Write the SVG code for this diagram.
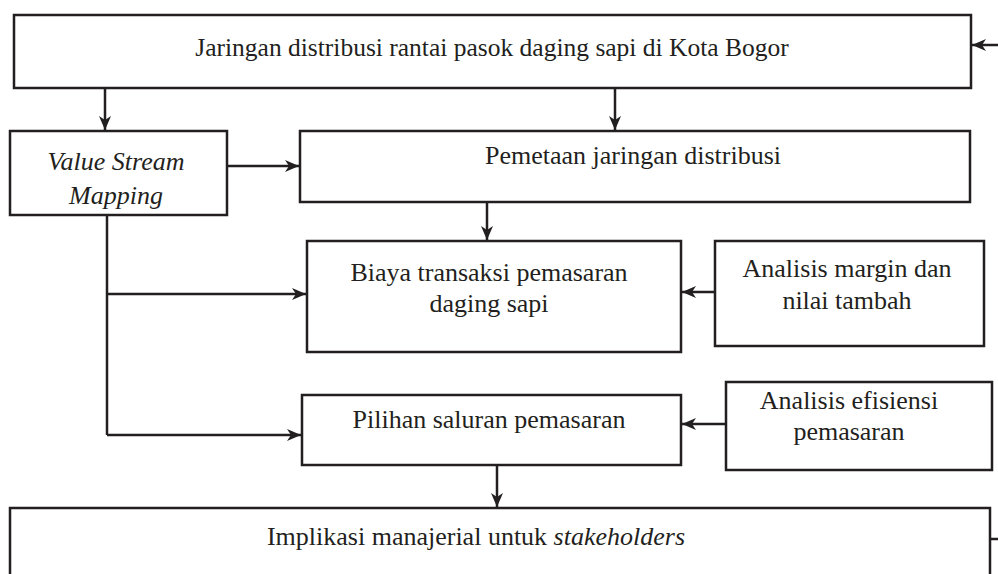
<svg xmlns="http://www.w3.org/2000/svg" width="998" height="574" viewBox="0 0 998 574">
<defs>
<marker id="ah" viewBox="0 0 14 12" refX="14" refY="6" markerWidth="14" markerHeight="12" markerUnits="userSpaceOnUse" orient="auto">
<path d="M0,0 L14,6 L0,12 L4,6 Z" fill="#231f20"/>
</marker>
<style>
.box{fill:#fff;stroke:#231f20;stroke-width:2.5}
.t{font-family:"Liberation Serif","Times New Roman",serif;font-size:26px;fill:#231f20;text-anchor:middle}
.c{fill:none;stroke:#231f20;stroke-width:2.5}
.a{marker-end:url(#ah)}
</style>
</defs>
<rect width="998" height="574" fill="#fff"/>
<g id="n-top"><rect class="box" x="14" y="15" width="957" height="73"/><text class="t" x="492" y="56" style="font-size:25.5px">Jaringan distribusi rantai pasok daging sapi di Kota Bogor</text></g>
<g id="n-vsm"><rect class="box" x="10" y="131" width="217" height="84"/><text class="t" x="116" y="170" font-style="italic">Value Stream</text><text class="t" x="116" y="204" font-style="italic">Mapping</text></g>
<g id="n-pemetaan"><rect class="box" x="300" y="131" width="670" height="71"/><text class="t" x="633" y="164">Pemetaan jaringan distribusi</text></g>
<g id="n-biaya"><rect class="box" x="307" y="241" width="374" height="111"/><text class="t" x="489" y="281">Biaya transaksi pemasaran</text><text class="t" x="489" y="312">daging sapi</text></g>
<g id="n-margin"><rect class="box" x="715" y="241" width="269" height="105"/><text class="t" x="847" y="277">Analisis margin dan</text><text class="t" x="847" y="309">nilai tambah</text></g>
<g id="n-pilihan"><rect class="box" x="302" y="395" width="379" height="70"/><text class="t" x="489" y="428">Pilihan saluran pemasaran</text></g>
<g id="n-efisiensi"><rect class="box" x="726" y="382" width="266" height="88"/><text class="t" x="849" y="409">Analisis efisiensi</text><text class="t" x="849" y="440">pemasaran</text></g>
<g id="n-implikasi"><rect class="box" x="10" y="508" width="980" height="80"/><text class="t" x="476" y="545">Implikasi manajerial untuk <tspan font-style="italic">stakeholders</tspan></text></g>
<g id="connectors">
<path class="c a" d="M998,45 H972"/>
<path class="c a" d="M105,88 V130"/>
<path class="c a" d="M615,88 V130"/>
<path class="c a" d="M227,166 H299"/>
<path class="c a" d="M487,202 V240"/>
<path class="c" d="M107,215 V435"/>
<path class="c a" d="M107,294 H306"/>
<path class="c a" d="M107,435 H301"/>
<path class="c a" d="M715,292 H682"/>
<path class="c a" d="M726,424 H682"/>
<path class="c a" d="M497,465 V507"/>
<path class="c" d="M990,539 H998"/>
</g>
</svg>
